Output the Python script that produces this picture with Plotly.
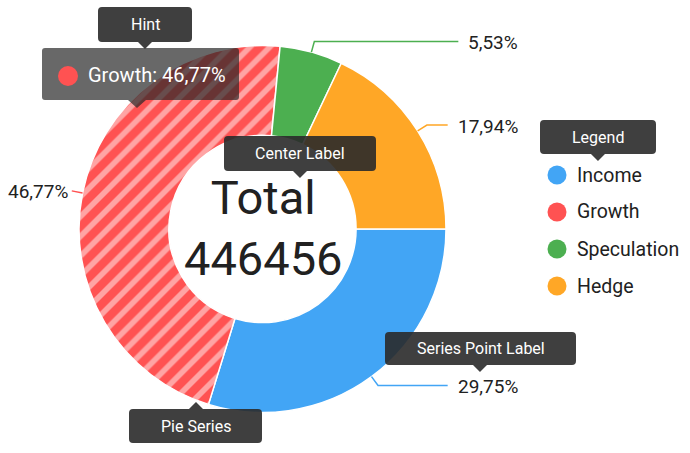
import plotly.graph_objects as go
import math

# ---------------- data ----------------
categories = ["Income", "Growth", "Speculation", "Hedge"]
values = [132837, 208822, 24706, 80091]
colors = ["#42A5F5", "#FF5252", "#4CAF50", "#FFA726"]
patterns = ["", "/", "", ""]
hint_category = "Growth"
callout_texts = ["Hint", "Center Label", "Legend", "Series Point Label", "Pie Series"]

# ---------------- layout constants ----------------
W, H = 690, 453
CX, CY, R = 262.5, 229.0, 183.5
HOLE = 0.51
FONT = "Roboto, 'Noto Sans', Arial, sans-serif"
TXT = "#212121"
LBL_FS = 19
CHAR_W = {",": 0.1965, "%": 0.7325}


def X(x):
    return x / W


def Y(y):
    return 1 - y / H


def fmt_pct(v, tot):
    return f"{v / tot * 100:.2f}".replace(".", ",")


def text_w(s, fs):
    return sum(CHAR_W.get(c, 0.5615) for c in s) * fs


total = sum(values)

fig = go.Figure()
fig.add_trace(go.Pie(
    labels=categories, values=values, sort=False, direction="clockwise",
    rotation=90, hole=HOLE, textinfo="none", hoverinfo="skip", showlegend=False,
    marker=dict(colors=colors, line=dict(color="white", width=1.5),
                pattern=dict(shape=patterns, fillmode="overlay", fgcolor="#FFA4A4",
                             fgopacity=1, size=14, solidity=0.4)),
    domain=dict(x=[X(CX - R), X(CX + R)], y=[Y(CY + R), Y(CY - R)]),
))

shapes = []
annotations = []

# ---------------- outside labels with connectors ----------------
cum = 0.0
for cat, v, col in zip(categories, values, colors):
    frac = v / total
    mid = (cum + frac / 2) * 2 * math.pi
    cum += frac
    c, s = math.cos(mid), math.sin(mid)
    x0, y0 = CX + R * c, CY + R * s
    x1, y1 = CX + (R + 11) * c, CY + (R + 11) * s
    txt = fmt_pct(v, total) + "%"
    if c >= 0:
        lx = 520
        xe = lx - text_w(txt, LBL_FS) - 12
        path = f"M {X(x0)},{Y(y0)} L {X(x1)},{Y(y1)} L {X(xe)},{Y(y1)}"
    else:
        lx = x1 - 2
        path = f"M {X(x0)},{Y(y0)} L {X(x1)},{Y(y1)}"
    shapes.append(dict(type="path", xref="paper", yref="paper", path=path,
                       line=dict(color=col, width=1.5), fillcolor="rgba(0,0,0,0)"))
    annotations.append(dict(x=X(lx), y=Y(y1 + 1), xref="paper", yref="paper",
                            text=txt, showarrow=False, xanchor="right", yanchor="middle",
                            font=dict(family=FONT, size=LBL_FS, color=TXT)))

# ---------------- center label ----------------
annotations.append(dict(x=X(CX + 0.5), y=Y(CY - 1), xref="paper", yref="paper",
                        text=f"Total<br>{total}", showarrow=False,
                        xanchor="center", yanchor="middle",
                        font=dict(family=FONT, size=47, color=TXT)))

# ---------------- legend (manual, circle markers) ----------------
for i, (cat, col) in enumerate(zip(categories, colors)):
    ly = 175 + 37 * i
    shapes.append(dict(type="circle", xref="paper", yref="paper",
                       x0=X(557 - 9.5), x1=X(557 + 9.5), y0=Y(ly + 9.5), y1=Y(ly - 9.5),
                       fillcolor=col, line=dict(width=0)))
    annotations.append(dict(x=X(575), y=Y(ly), xref="paper", yref="paper", text=cat,
                            showarrow=False, xanchor="left", yanchor="middle",
                            font=dict(family=FONT, size=19.5, color=TXT)))


# ---------------- callouts ----------------
def callout_path(x0, y0, x1, y1, px, pdir, r=4, pw=7, ph=7):
    P = lambda x, y: f"{X(x):.5f},{Y(y):.5f}"
    d = f"M {P(x0 + r, y0)} "
    if pdir == "up":
        d += f"L {P(px - pw, y0)} L {P(px, y0 - ph)} L {P(px + pw, y0)} "
    d += f"L {P(x1 - r, y0)} Q {P(x1, y0)} {P(x1, y0 + r)} "
    d += f"L {P(x1, y1 - r)} Q {P(x1, y1)} {P(x1 - r, y1)} "
    if pdir == "down":
        d += f"L {P(px + pw, y1)} L {P(px, y1 + ph)} L {P(px - pw, y1)} "
    d += f"L {P(x0 + r, y1)} Q {P(x0, y1)} {P(x0, y1 - r)} "
    d += f"L {P(x0, y0 + r)} Q {P(x0, y0)} {P(x0 + r, y0)} Z"
    return d


DARK = "rgba(42,42,42,0.9)"

# hint tooltip (gray, translucent)
gi = categories.index(hint_category)
shapes.append(dict(type="path", xref="paper", yref="paper",
                   path=callout_path(42, 48, 239, 100, 137, "down", r=3, pw=9, ph=8),
                   fillcolor="rgba(40,40,40,0.7)", line=dict(width=0)))
shapes.append(dict(type="circle", xref="paper", yref="paper",
                   x0=X(68 - 10), x1=X(68 + 10), y0=Y(76 + 10), y1=Y(76 - 10),
                   fillcolor=colors[gi], line=dict(width=0)))
annotations.append(dict(x=X(86), y=Y(75), xref="paper", yref="paper",
                        text=f"{hint_category}: {fmt_pct(values[gi], total)}%",
                        showarrow=False, xanchor="left", yanchor="middle",
                        font=dict(family=FONT, size=20, color="white")))

boxes = [
    (98, 7, 192, 42, 145, "down"),
    (224, 136, 376, 171, 300, "down"),
    (540, 120, 656, 154, 598, "down"),
    (385, 332, 576, 365, 480, "down"),
    (129, 409, 262, 443, 196, "up"),
]
for (x0, y0, x1, y1, px, pdir), t in zip(boxes, callout_texts):
    shapes.append(dict(type="path", xref="paper", yref="paper",
                       path=callout_path(x0, y0, x1, y1, px, pdir),
                       fillcolor=DARK, line=dict(width=0)))
    annotations.append(dict(x=X((x0 + x1) / 2), y=Y((y0 + y1) / 2), xref="paper", yref="paper",
                            text=t, showarrow=False, xanchor="center", yanchor="middle",
                            font=dict(family=FONT, size=16, color="white")))

fig.update_layout(
    width=W, height=H, margin=dict(l=0, r=0, t=0, b=0),
    paper_bgcolor="white", plot_bgcolor="white",
    shapes=shapes, annotations=annotations, showlegend=False,
    font=dict(family=FONT),
)

fig.write_html("out.html", config={"displayModeBar": False},
               post_script="document.body.style.margin='0';document.body.style.overflow='hidden';")
